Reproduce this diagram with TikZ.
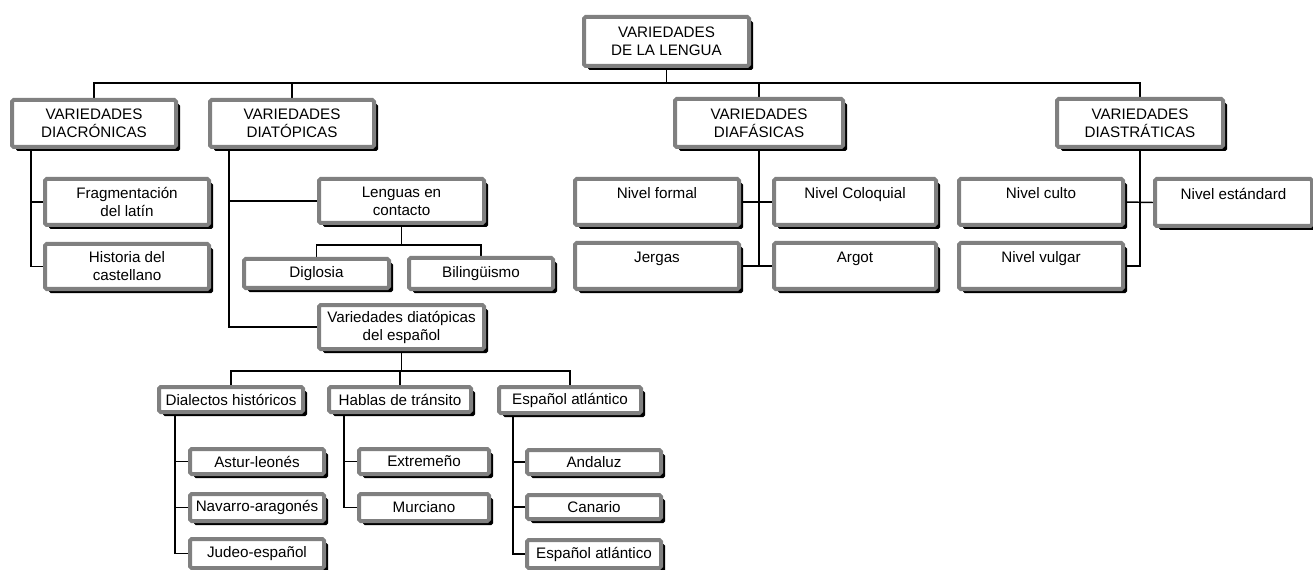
\documentclass[tikz,border=0pt]{standalone}
\usepackage{fontspec}
\setmainfont{Liberation Sans}
\usetikzlibrary{shadows,backgrounds}
\definecolor{bordergray}{HTML}{808080}
\tikzset{
  box/.style={draw=bordergray, line width=3pt, fill=white, rounded corners=1.2pt,
    align=center, inner sep=1.5pt, font=\fontsize{11.4}{13.5}\selectfont,
    general shadow={fill=black, shadow xshift=3pt, shadow yshift=-3pt}},
  conn/.style={draw=black, line width=1.1pt}
}
\newcommand\bx[6]{\node[box, minimum width={(#4-#2-6)*0.75pt}, minimum height={(#5-#3-6)*0.75pt}] (#1) at ({(#2+#4)/2-1},{(#3+#5)/2-1}) {#6};}
\begin{document}
\begin{tikzpicture}[x=0.75pt,y=-0.75pt]
\useasboundingbox (0,0) rectangle (1313,570);
% level 0
\bx{top}{582}{15}{753}{70}{VARIEDADES\\DE LA LENGUA}
% level 1
\bx{diacr}{10}{98}{180}{151}{VARIEDADES\\DIACRÓNICAS}
\bx{diatop}{208}{98}{378}{151}{VARIEDADES\\DIATÓPICAS}
\bx{diafas}{673}{97}{847}{151}{VARIEDADES\\DIAFÁSICAS}
\bx{diastr}{1055}{97}{1227}{151}{VARIEDADES\\DIASTRÁTICAS}
% diacronicas
\bx{frag}{43}{177}{213}{229}{Fragmentación\\del latín}
\bx{hist}{43}{242}{213}{293}{Historia del\\castellano}
% diatopicas
\bx{lenguas}{317}{177}{488}{227}{Lenguas en\\contacto}
\bx{digl}{242}{257}{393}{292}{Diglosia}
\bx{biling}{407}{256}{557}{293}{Bilingüismo}
\bx{vde}{317}{303}{488}{353}{Variedades diatópicas\\del español}
\bx{dialh}{157}{385}{307}{416}{Dialectos históricos}
\bx{hablas}{327}{385}{475}{416}{Hablas de tránsito}
\bx{espa}{497}{385}{645}{417}{Español atlántico}
\bx{astur}{188}{447}{328}{478}{Astur-leonés}
\bx{navarro}{188}{492}{328}{525}{Navarro-aragonés}
\bx{judeo}{188}{537}{328}{572}{Judeo-español}
\bx{extrem}{357}{447}{493}{478}{Extremeño}
\bx{murc}{357}{492}{493}{525}{Murciano}
\bx{andaluz}{525}{448}{665}{478}{Andaluz}
\bx{canario}{525}{493}{665}{523}{Canario}
\bx{espb}{525}{538}{665}{572}{Español atlántico}
% diafasicas
\bx{formal}{573}{177}{743}{229}{Nivel formal\\\mbox{}}
\bx{coloq}{772}{177}{940}{229}{Nivel Coloquial\\\mbox{}}
\bx{jergas}{573}{241}{743}{293}{Jergas\\\mbox{}}
\bx{argot}{772}{241}{940}{293}{Argot\\\mbox{}}
% diastraticas
\bx{culto}{957}{177}{1127}{229}{Nivel culto\\\mbox{}}
\bx{estand}{1153}{177}{1316}{230}{Nivel estándard\\\mbox{}}
\bx{vulgar}{957}{241}{1127}{293}{Nivel vulgar\\\mbox{}}
% connectors
\begin{scope}[on background layer]
\coordinate (b0) at (668,83);
\draw[conn] (top.south) -- (top.south |- b0);
\draw[conn] (diacr.north) |- (b0);
\draw[conn] (diatop.north) |- (b0);
\draw[conn] (diafas.north) |- (b0);
\draw[conn] (diastr.north) |- (b0);
\coordinate (s1) at (31,148);
\draw[conn] (s1) |- (frag.west);
\draw[conn] (s1) |- (hist.west);
\coordinate (s2) at (229,148);
\draw[conn] (s2) |- (lenguas.west);
\draw[conn] (s2) |- (vde.west);
\coordinate (b2) at (402,245);
\draw[conn] (lenguas.south) -- (lenguas.south |- b2);
\draw[conn] (digl.north) |- (lenguas.south |- b2);
\draw[conn] (biling.north) |- (lenguas.south |- b2);
\coordinate (b3) at (402,371);
\draw[conn] (vde.south) -- (vde.south |- b3);
\draw[conn] (dialh.north) |- (vde.south |- b3);
\draw[conn] (hablas.north) |- (vde.south |- b3);
\draw[conn] (espa.north) |- (vde.south |- b3);
\coordinate (s3) at (175,412);
\draw[conn] (s3) |- (astur.west);
\draw[conn] (s3) |- (navarro.west);
\draw[conn] (s3) |- (judeo.west);
\coordinate (s4) at (344,412);
\draw[conn] (s4) |- (extrem.west);
\draw[conn] (s4) |- (murc.west);
\coordinate (s5) at (513,412);
\draw[conn] (s5) |- (andaluz.west);
\draw[conn] (s5) |- (canario.west);
\draw[conn] (s5) |- (espb.west);
\draw[conn] (diafas.south) -- (diafas.south |- jergas.east);
\draw[conn] (formal.east) -- (coloq.west);
\draw[conn] (jergas.east) -- (argot.west);
\draw[conn] (diastr.south) |- (vulgar.east);
\draw[conn] (culto.east) -- (estand.west);
\end{scope}
\end{tikzpicture}
\end{document}
